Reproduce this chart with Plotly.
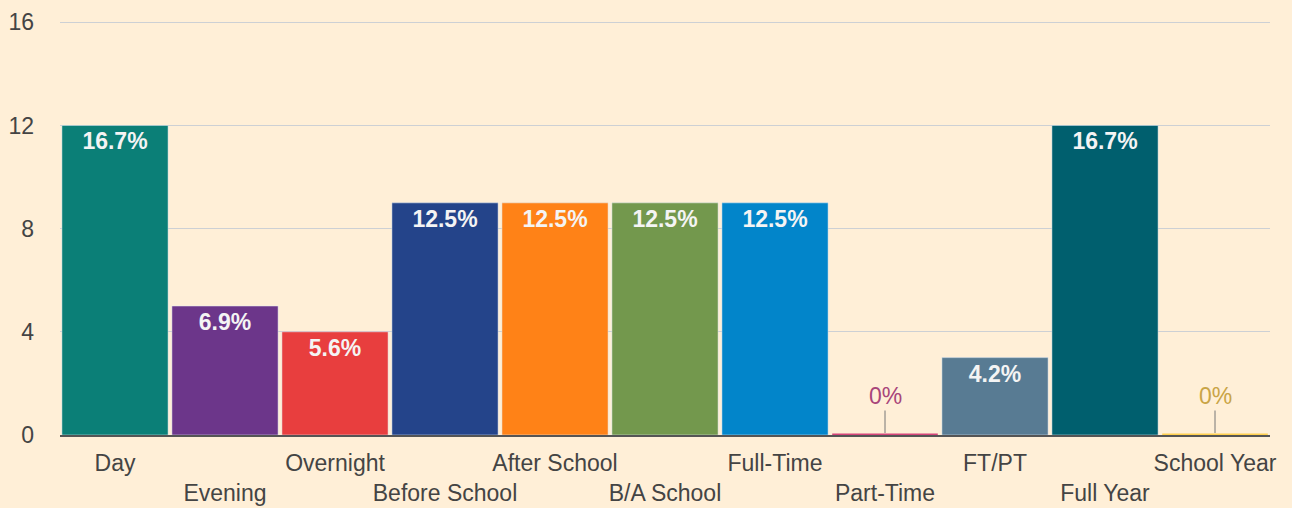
import plotly.graph_objects as go

categories = ["Day", "Evening", "Overnight", "Before School", "After School", "B/A School",
              "Full-Time", "Part-Time", "FT/PT", "Full Year", "School Year"]
values = [12, 5, 4, 9, 9, 9, 9, 0, 3, 12, 0]
colors = ["#0B7F77", "#6C368A", "#E83E3E", "#24448A", "#FF8217", "#73984D",
          "#0285CA", "#D6457A", "#587B93", "#005F6E", "#FFD04F"]
zero_label_colors = {"Part-Time": "#A8457A", "School Year": "#C9A446"}
y_ticks = [0, 4, 8, 12, 16]

total = sum(values)
def pct(v):
    p = round(v / total * 100, 1)
    return "0%" if p == 0 else f"{p:g}%"

labels = [pct(v) if v > 0 else "" for v in values]
# stagger category labels on two rows
ticktext = [c if i % 2 == 0 else " <br>" + c for i, c in enumerate(categories)]

FONT = "Liberation Sans"

fig = go.Figure()
fig.add_trace(go.Bar(
    x=categories, y=values, marker_color=colors,
    text=labels, textposition="inside", insidetextanchor="end",
    texttemplate="<b>%{text}</b>",
    textfont=dict(color="#F4F4F4", size=23, family=FONT),
    textangle=0, cliponaxis=False, showlegend=False,
))

# zero-valued categories get a thin coloured strip and an outside label
for i, (c, v) in enumerate(zip(categories, values)):
    if v == 0:
        fig.add_shape(type="line", xref="x", yref="y", x0=i - 0.48, x1=i + 0.48,
                      y0=v, y1=v, line=dict(color=colors[i], width=3))
        fig.add_annotation(x=c, y=v, text=pct(v), showarrow=True, arrowhead=0,
                           arrowwidth=1, arrowcolor="#777777", ax=0, ay=-37,
                           yshift=2,
                           font=dict(size=23, color=zero_label_colors[c], family=FONT))

fig.update_layout(
    width=1292, height=508,
    margin=dict(l=60, r=22, t=21, b=73, autoexpand=False),
    paper_bgcolor="#FFEFD7", plot_bgcolor="#FFEFD7",
    bargap=0.035,
    font=dict(family=FONT, size=23, color="#444444"),
)
fig.update_xaxes(tickmode="array", tickvals=categories, ticktext=ticktext, tickangle=0,
                 showgrid=False, showline=True, linecolor="#555555", linewidth=1.5,
                 automargin=False, ticks="", ticklabelstandoff=7,
                 tickfont=dict(size=23, color="#444444"))
fig.update_yaxes(range=[0, 16.05], tickvals=y_ticks, gridcolor="#CDD0D4", gridwidth=1,
                 zeroline=False, showline=False, ticks="", ticklabelstandoff=25,
                 automargin=False, tickfont=dict(size=23, color="#444444"))

fig.write_html("out.html", config={"displayModeBar": False},
               post_script="document.body.style.margin='0';")
